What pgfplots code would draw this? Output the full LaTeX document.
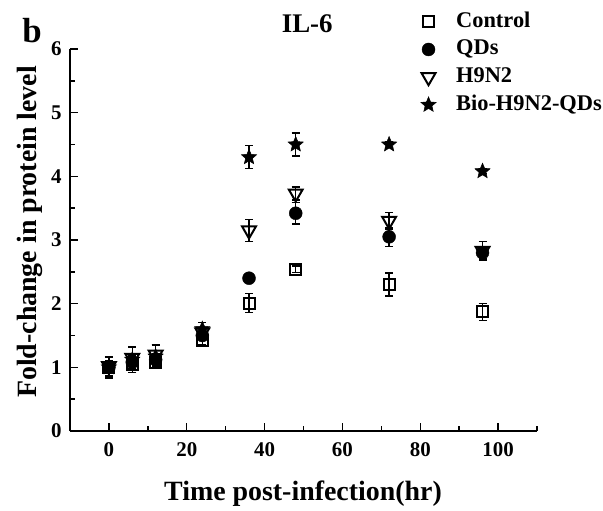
\documentclass[border=0pt]{standalone}
\usepackage{pgfplots}
\pgfplotsset{compat=1.18}
\usepackage{fontspec}
\setmainfont{Liberation Serif}
\pgfdeclareplotmark{fstar}{%
  \pgfpathmoveto{\pgfpointpolar{90}{\pgfplotmarksize}}%
  \pgfpathlineto{\pgfpointpolar{126}{0.45\pgfplotmarksize}}%
  \pgfpathlineto{\pgfpointpolar{162}{\pgfplotmarksize}}%
  \pgfpathlineto{\pgfpointpolar{198}{0.45\pgfplotmarksize}}%
  \pgfpathlineto{\pgfpointpolar{234}{\pgfplotmarksize}}%
  \pgfpathlineto{\pgfpointpolar{270}{0.45\pgfplotmarksize}}%
  \pgfpathlineto{\pgfpointpolar{306}{\pgfplotmarksize}}%
  \pgfpathlineto{\pgfpointpolar{342}{0.45\pgfplotmarksize}}%
  \pgfpathlineto{\pgfpointpolar{18}{\pgfplotmarksize}}%
  \pgfpathlineto{\pgfpointpolar{54}{0.45\pgfplotmarksize}}%
  \pgfpathclose\pgfusepathqfillstroke}
\begin{document}
\begin{tikzpicture}
\useasboundingbox (0,0) rectangle (603bp,511bp);
\begin{axis}[
  at={(70bp,80bp)}, anchor=south west,
  width=467bp, height=382bp, scale only axis,
  xmin=-10, xmax=110, ymin=0, ymax=6,
  axis lines=left, axis line style={-, line width=1.6bp},
  tick align=inside,
  xtick={0,20,...,100}, minor xtick={10,30,...,110},
  ytick={0,1,...,6}, minor ytick={0.5,1.5,...,5.5},
  major tick length=8bp, minor tick length=4.5bp,
  tick style={line width=1.4bp, black},
  /pgf/number format/assume math mode=true,
  ticklabel style={font=\fontsize{21}{21}\selectfont\bfseries},
  xticklabel style={yshift=-8bp},
  yticklabel style={xshift=-5bp},
  xlabel={Time post-infection(hr)},
  ylabel={Fold-change in protein level},
  label style={font=\fontsize{28}{28}\selectfont\bfseries},
  xlabel style={at={(axis description cs:0.499,-0.163)}, anchor=center},
  ylabel style={at={(axis description cs:-0.0857,0.521)}, anchor=center, rotate=0},
  clip=false,
  legend style={at={(rel axis cs:0.751,1.1045)}, anchor=north west, draw=none, fill=none,
    font=\fontsize{22.5}{22.5}\selectfont\bfseries, inner sep=0pt,
    row sep=2.7bp, nodes={inner sep=2bp, text height=16bp, text depth=5bp},
    /tikz/every odd column/.append style={column sep=18bp}},
  legend cell align=left,
  error bars/y dir=both, error bars/y explicit,
  error bars/error bar style={line width=1.4bp, black},
  error bars/error mark options={rotate=90, mark size=4bp, line width=1.4bp, black},
]
\addplot[only marks, mark=square, mark size=5.5bp, mark options={line width=2bp, fill=white}, black]
 coordinates {(0,1.00) +- (0,0.15) (6,1.05) +- (0,0.08) (12,1.08) +- (0,0.08) (24,1.42) +- (0,0.06)
 (36,2.01) +- (0,0.15) (48,2.54) +- (0,0.05) (72,2.30) +- (0,0.18) (96,1.87) +- (0,0.13)};
\addlegendentry{Control}
\addplot[only marks, mark=*, mark size=6.5bp, black]
 coordinates {(0,1.00) +- (0,0.10) (6,1.08) +- (0,0.10) (12,1.12) +- (0,0.10) (24,1.50) +- (0,0.05)
 (36,2.40) +- (0,0.05) (48,3.42) +- (0,0.17) (72,3.05) +- (0,0.15) (96,2.80) +- (0,0.10)};
\addlegendentry{QDs}
\addplot[only marks, mark=triangle, mark size=8bp, mark options={rotate=180, line width=2bp, fill=white}, black]
 coordinates {(0,1.02) +- (0,0.15) (6,1.15) +- (0,0.17) (12,1.20) +- (0,0.15) (24,1.55) +- (0,0.08)
 (36,3.15) +- (0,0.17) (48,3.73) +- (0,0.10) (72,3.30) +- (0,0.13) (96,2.83) +- (0,0.15)};
\addlegendentry{H9N2}
\addplot[only marks, mark=fstar, mark size=8bp, mark options={line width=0.5bp}, black]
 coordinates {(0,1.00) +- (0,0.17) (6,1.12) +- (0,0.20) (12,1.17) +- (0,0.18) (24,1.60) +- (0,0.10)
 (36,4.30) +- (0,0.18) (48,4.50) +- (0,0.18) (72,4.50) +- (0,0.05) (96,4.08) +- (0,0.04)};
\addlegendentry{Bio-H9N2-QDs}
\node[font=\fontsize{27}{27}\selectfont\bfseries, anchor=base] at (rel axis cs:0.508,1.042) {IL-6};
\node[font=\fontsize{35}{35}\selectfont\bfseries, anchor=base] at (rel axis cs:-0.081,1.018) {b};
\end{axis}
\end{tikzpicture}
\end{document}
